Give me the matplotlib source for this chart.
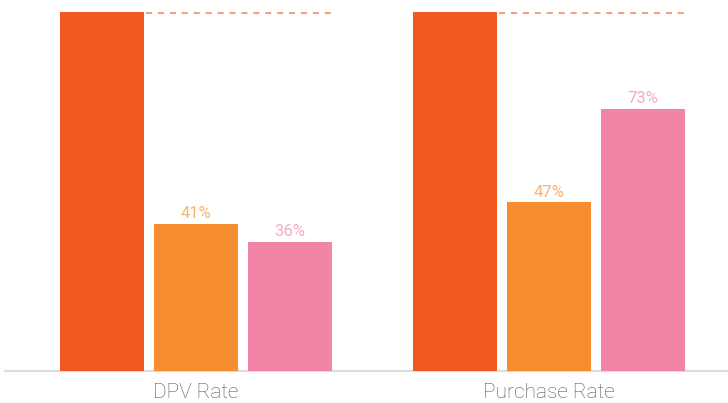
import matplotlib.pyplot as plt
import numpy as np

plt.rcParams['font.family'] = ['Roboto', 'DejaVu Sans']

categories = ['DPV Rate', 'Purchase Rate']
baseline = [100, 100]
series_a = [41, 47]
series_b = [36, 73]

c_base = '#F05A22'
c_a = '#F68E2F'
c_b = '#F285A5'

fig = plt.figure(figsize=(7.28, 4.03), dpi=100)
ax = fig.add_axes([0, 0, 1, 1])

x = np.arange(len(categories))
pitch = 0.266
width = 0.238

ax.bar(x - pitch, baseline, width, color=c_base, zorder=3)
bars_a = ax.bar(x, series_a, width, color=c_a, zorder=3)
bars_b = ax.bar(x + pitch, series_b, width, color=c_b, zorder=3)

# dashed reference at the 100% level
for xi, v in zip(x, baseline):
    ax.plot([xi - pitch + width / 2 + 0.006, xi + pitch + width / 2 + 0.004], [v - 0.4, v - 0.4],
            color=c_base, alpha=0.75, lw=1.1, dashes=(4, 3.8), zorder=2)

for bars, vals, col in [(bars_a, series_a, c_a), (bars_b, series_b, c_b)]:
    for b, v in zip(bars, vals):
        ax.text(b.get_x() + b.get_width() / 2, v + 1.5, f'{v}%', ha='center', va='baseline',
                fontsize=12, color=col, alpha=0.68, fontweight='normal')

ax.axhline(0, xmin=5 / 728, xmax=1, color='#dddddd', lw=1.6, zorder=1)

for xi, name in zip(x, categories):
    ax.text(xi, -5.9, name, ha='center', va='center', fontsize=15, color='#555555',
            fontweight='light')

ax.set_xlim(-0.555, 1.507)
ax.set_ylim(-8.9, 103.3)
ax.axis('off')

fig.savefig('out.png', dpi=100)
